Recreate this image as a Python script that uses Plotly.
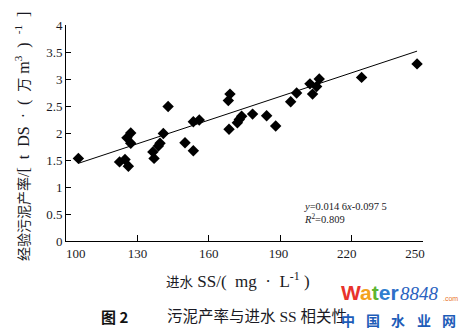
import plotly.graph_objects as go

# Influent SS (mg/L) and empirical sludge yield (t DS per 10^4 m3)
influent_ss = [105.2, 122.5, 124.8, 126.2, 125.6, 127.2, 127.2, 136.5, 137.0, 138.8,
               139.5, 140.9, 142.9, 150.0, 153.5, 153.5, 156.0, 168.2, 168.9, 168.5,
               172.0, 172.8, 173.8, 178.4, 184.3, 188.1, 194.4, 196.9, 202.5, 203.6,
               205.3, 206.4, 224.2, 247.5]
sludge_yield = [1.53, 1.465, 1.51, 1.385, 1.91, 2.00, 1.81, 1.65, 1.53, 1.76,
                1.81, 1.99, 2.49, 1.82, 1.67, 2.21, 2.24, 2.60, 2.72, 2.07,
                2.19, 2.25, 2.31, 2.35, 2.32, 2.13, 2.58, 2.74, 2.91, 2.72,
                2.86, 3.00, 3.03, 3.28]

# Linear regression reported for the data
slope = 0.0146
intercept = -0.0975
r_squared = 0.809

x_ticks = [100, 130, 160, 190, 220, 250]
y_ticks = [0, 0.5, 1, 1.5, 2, 2.5, 3, 3.5, 4]

W, H = 467, 329
ML, MR, MT, MB = 66, 44, 25, 88
PW, PH = W - ML - MR, H - MT - MB


def px(x):
    return (x - ML) / PW


def py(y):
    return (H - MB - y) / PH


NB = "\u00a0"
serif = "Liberation Serif, 'Noto Sans CJK SC', serif"
cjk = "'Noto Sans CJK SC', sans-serif"
ink = "#1a1a24"


def han(s, size=13.5):
    return f"<span style='font-size:{size}px'>{s}</span>"


# end labels are nudged inward so they sit clear of the axis corners
x_pad = {100: (6, 0), 130: (0, 0), 160: (0, 0), 190: (0, 1), 220: (0, 3), 250: (0, 5)}
x_ticktext = [NB * x_pad[t][0] + str(t) + NB * x_pad[t][1] for t in x_ticks]

fit_x = [min(influent_ss), max(influent_ss)]
fit_y = [slope * v + intercept for v in fit_x]

fig = go.Figure()
fig.add_trace(go.Scatter(
    x=fit_x, y=fit_y, mode="lines",
    line=dict(color="black", width=1), hoverinfo="skip", showlegend=False))
fig.add_trace(go.Scatter(
    x=influent_ss, y=sludge_yield, mode="markers",
    marker=dict(symbol="diamond", size=8.8, color="black", line=dict(width=0)),
    showlegend=False))

fig.update_xaxes(
    range=[100, 250], tickvals=x_ticks, ticktext=x_ticktext,
    ticks="inside", ticklen=6, tickwidth=1, tickcolor="black",
    showline=True, linecolor="black", linewidth=1, showgrid=False, zeroline=False,
    tickfont=dict(family=serif, size=13, color=ink))
fig.update_yaxes(
    range=[0, 4], tickvals=y_ticks, ticktext=[f"{t:g}" for t in y_ticks],
    ticks="inside", ticklen=5, tickwidth=1, tickcolor="black",
    showline=True, linecolor="black", linewidth=1, showgrid=False, zeroline=False,
    tickfont=dict(family=serif, size=13, color=ink))

y_title = (han("经验污泥产率", 14) + f"/[{NB*2}t{NB*2}DS{NB*2}·{NB*2}({NB*2}" + han("万", 14)
           + f"{NB}m<sup>3</sup>{NB*2}){NB*2}<sup>-1</sup>{NB*2}]")
x_title = (han("进水", 13.5) + f"{NB}SS/({NB*2}mg{NB*2}·{NB*2}L<sup>-1</sup>{NB})")

annotations = [
    # axis titles
    dict(x=px(22), y=py(137), text=y_title, textangle=-90,
         font=dict(family=serif, size=16, color=ink)),
    dict(x=px(238), y=py(280), text=x_title,
         font=dict(family=serif, size=17, color=ink)),
    # regression equation
    dict(x=px(302), y=py(206), xanchor="left",
         text="<i>y</i>=0.014 6<i>x</i>-0.097 5",
         font=dict(family=serif, size=10.5, color=ink)),
    dict(x=px(302), y=py(218), xanchor="left",
         text=f"<i>R</i><sup>2</sup>={r_squared:.3f}",
         font=dict(family=serif, size=10.5, color=ink)),
    # caption
    dict(x=px(99), y=py(316), xanchor="left", text="<b>图 2</b>",
         font=dict(family=cjk, size=15, color="#111")),
    dict(x=px(165), y=py(316), xanchor="left",
         text=f"污泥产率与进水{NB}SS{NB}相关性",
         font=dict(family=serif, size=15.5, color=ink)),
    # site logo
    dict(x=px(339), y=py(292), xanchor="left",
         text=("<b><span style='color:#e8332c'>W</span><span style='color:#f4a21d'>a</span>"
               "<span style='color:#5cb531'>t</span><span style='color:#2f7fd0'>e</span>"
               "<span style='color:#2f6fc8'>r</span></b>"),
         font=dict(family="Liberation Sans, Arial, sans-serif", size=21)),
    dict(x=px(398), y=py(293), xanchor="left", text="<i>8848</i>",
         font=dict(family=serif, size=19, color="#2a62c0")),
    dict(x=px(441), y=py(298), xanchor="left", text=".com",
         font=dict(family="Liberation Sans, sans-serif", size=7, color="#e8742c")),
]
for ch, cx in zip("中国水业网", [348, 373, 398, 424, 449]):
    annotations.append(dict(x=px(cx), y=py(320), text=f"<b>{ch}</b>",
                            font=dict(family=cjk, size=14, color="#1d5cb8")))

for a in annotations:
    a.setdefault("xanchor", "center")
    a.update(yanchor="middle", xref="paper", yref="paper", showarrow=False)

fig.update_layout(
    width=W, height=H, margin=dict(l=ML, r=MR, t=MT, b=MB),
    paper_bgcolor="white", plot_bgcolor="white",
    annotations=annotations)

fig.write_html("out.html")
